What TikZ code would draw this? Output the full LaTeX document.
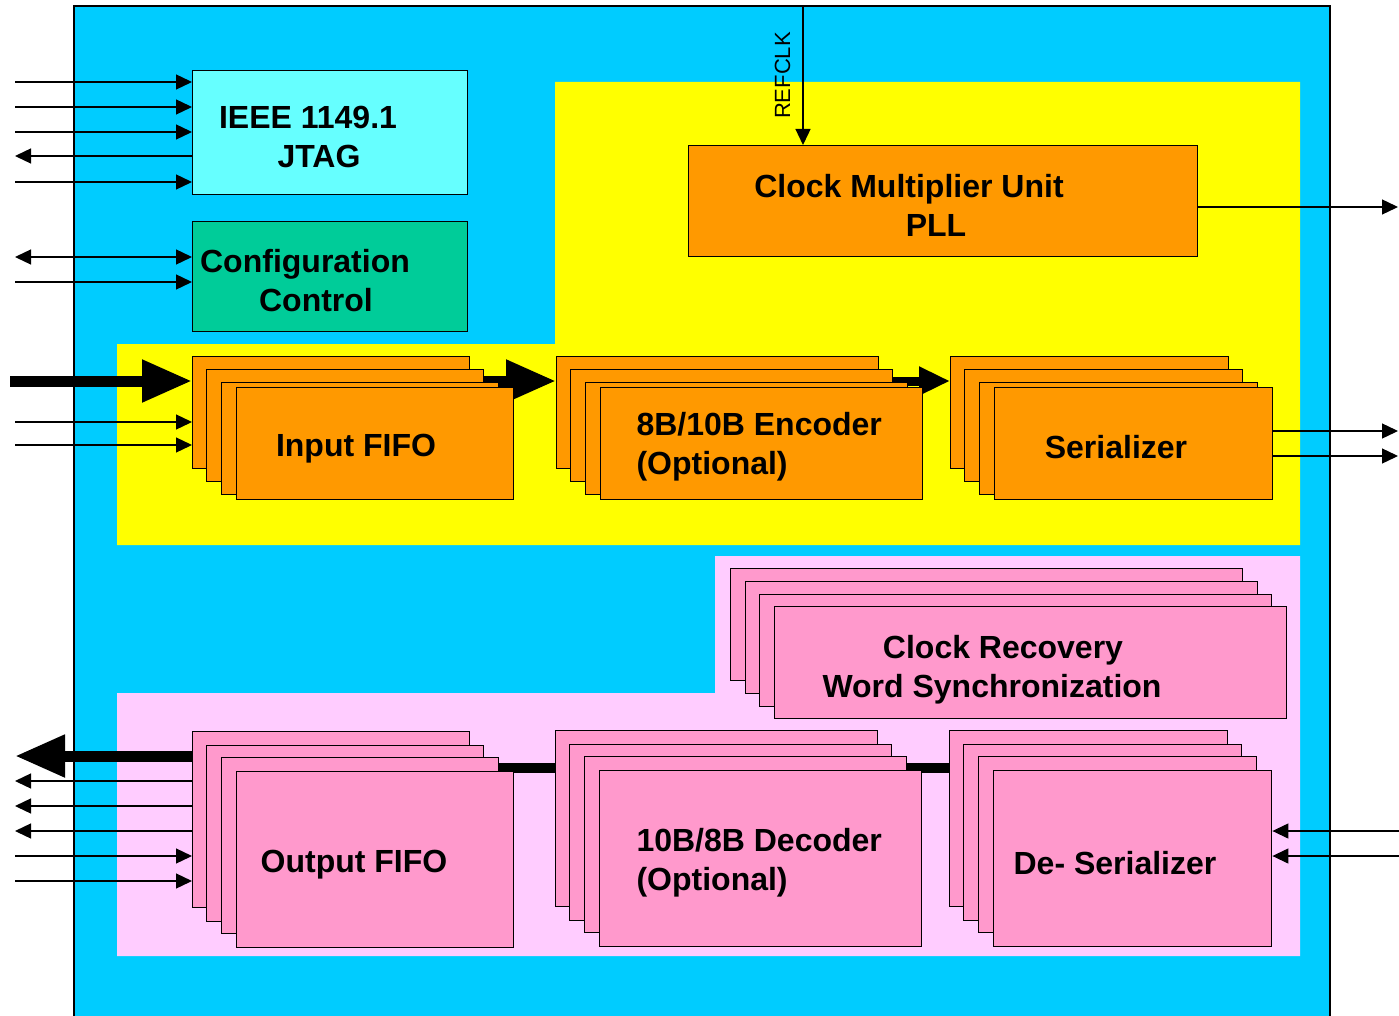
\documentclass[tikz,border=0pt]{standalone}
\usepackage{fontspec}
\setmainfont{Liberation Sans}
\usepackage{tikz}
\usetikzlibrary{arrows.meta, positioning, calc, backgrounds}
\definecolor{chipblue}{HTML}{00CCFF}
\definecolor{txyellow}{HTML}{FFFF00}
\definecolor{rxpink}{HTML}{FFCCFF}
\definecolor{blkorange}{HTML}{FF9900}
\definecolor{blkpink}{HTML}{FF99CC}
\definecolor{jtagcyan}{HTML}{66FFFF}
\definecolor{cfggreen}{HTML}{00CC99}
\pgfdeclarelayer{wires}
\pgfsetlayers{background,wires,main}

\begin{document}
\begin{tikzpicture}[
    x=1pt, y=-1pt,
    block/.style={draw, line width=1.4pt, fill=#1, inner sep=0pt, anchor=north west},
    lbl/.style={font=\fontsize{32}{39}\selectfont\bfseries, align=center},
    pin/.style={-{Triangle[length=16pt,width=15pt]}, line width=1.3pt},
    bipin/.style={{Triangle[length=16pt,width=15pt]}-{Triangle[length=16pt,width=15pt]}, line width=1.3pt},
    bus/.style={-{Triangle[length=50pt,width=40pt]}, line width=11pt},
    smallbus/.style={-{Triangle[length=31pt,width=27pt]}, line width=9pt},
    link/.style={line width=10pt, line cap=round}
]
\useasboundingbox (0,0) rectangle (1399,1016);

% Chip and regions
\begin{scope}[on background layer]
    \filldraw[fill=chipblue, draw=black, line width=1.3pt] (74,6) rectangle (1330,1040);
    \fill[txyellow] (555,82) -- (1300,82) -- (1300,545) -- (117,545) -- (117,344) -- (555,344) -- cycle;
    \fill[rxpink] (715,556) -- (1300,556) -- (1300,956) -- (117,956) -- (117,693) -- (715,693) -- cycle;
\end{scope}

% Control blocks
\node[block=jtagcyan, minimum width=275pt, minimum height=124pt] (jtag) at (192,70) {};
\node[lbl] at (308,137) {IEEE 1149.1\\\hspace*{22pt}JTAG};
\node[block=cfggreen, minimum width=275pt, minimum height=110pt] (cfg) at (192,221) {};
\node[lbl] at (305,281) {Configuration\\\hspace*{22pt}Control};
\node[block=blkorange, minimum width=509pt, minimum height=111pt] (cmu) at (688,145) {};
\node[lbl] at (909,205) {Clock Multiplier Unit\\\hspace*{54pt}PLL};

% Transmit path
\foreach \dx/\dy [count=\k] in {0/0,14/13,29/26,44/31} {
    \node[block=blkorange, minimum width=277pt, minimum height=112pt] (fifoin\k) at ({192+\dx},{356+\dy}) {};
    \node[block=blkorange, minimum width=322pt, minimum height=112pt] (enc\k) at ({556+\dx},{356+\dy}) {};
    \node[block=blkorange, minimum width=278pt, minimum height=112pt] (ser\k) at ({950+\dx},{356+\dy}) {};
}
\node[lbl] at (356,449) {Input FIFO};
\node[lbl, anchor=west, align=left] at (633,447) {8B/10B Encoder\\(Optional)};
\node[lbl] at (1116,447) {Serializer};

% Receive path
\foreach \dx/\dy [count=\k] in {0/0,15/13,29/26,44/38} {
    \node[block=blkpink, minimum width=512pt, minimum height=112pt] (cdr\k) at ({730+\dx},{568+\dy}) {};
}
\node[lbl] at (992,670) {\hspace*{22pt}Clock Recovery\\Word Synchronization};
\foreach \dx/\dy [count=\k] in {0/0,14/14,29/26,44/40} {
    \node[block=blkpink, minimum width=277pt, minimum height=176pt] (fifoout\k) at ({192+\dx},{731+\dy}) {};
    \node[block=blkpink, minimum width=322pt, minimum height=176pt] (dec\k) at ({555+\dx},{730+\dy}) {};
    \node[block=blkpink, minimum width=278pt, minimum height=176pt] (des\k) at ({949+\dx},{730+\dy}) {};
}
\node[lbl] at (354,865) {Output FIFO};
\node[lbl, anchor=west, align=left] at (633,863) {10B/8B Decoder\\(Optional)};
\node[lbl] at (1115,863) {De- Serializer};

% Data buses (behind the stacks)
\begin{pgfonlayer}{wires}
    \draw[bus] (10,381) -- (fifoin1.west |- 0,381);
    \draw[bus] (fifoin4.center |- 0,381) -- (enc1.west |- 0,381);
    \draw[smallbus] (enc4.center |- 0,381) -- (ser1.west |- 0,381);
    \draw[bus] (fifoout1.west |- 0,756) -- (15,756);
    \draw[link] (dec1.west |- 0,768) -- (fifoout4.center |- 0,768);
    \draw[link] (des1.west |- 0,768) -- (dec4.center |- 0,768);
\end{pgfonlayer}

% Pins
\foreach \y in {82,107,132,182} {
    \draw[pin] (15,\y) -- (jtag.west |- 0,\y);
}
\draw[pin] (jtag.west |- 0,156) -- (15,156);
\draw[bipin] (15,257) -- (cfg.west |- 0,257);
\draw[pin] (15,282) -- (cfg.west |- 0,282);
\foreach \y in {422,445} {
    \draw[pin] (15,\y) -- (fifoin1.west |- 0,\y);
}
\foreach \y in {781,806,831} {
    \draw[pin] (fifoout1.west |- 0,\y) -- (15,\y);
}
\foreach \y in {856,881} {
    \draw[pin] (15,\y) -- (fifoout1.west |- 0,\y);
}
\foreach \y in {431,456} {
    \draw[pin] (ser4.east |- 0,\y) -- (1398,\y);
}
\foreach \y in {831,856} {
    \draw[pin] (1399,\y) -- (des4.east |- 0,\y);
}
\draw[pin] (cmu.east |- 0,207) -- (1398,207);
\draw[pin] (803,6) -- node[midway, rotate=90, anchor=south, inner sep=12pt, font=\fontsize{22}{24}\selectfont] {REFCLK} (cmu.north -| 803,0);

\end{tikzpicture}
\end{document}
